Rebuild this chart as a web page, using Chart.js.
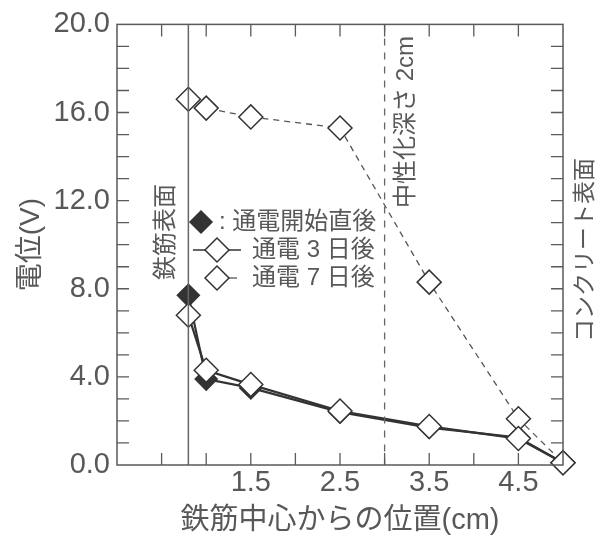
<!DOCTYPE html>
<html><head><meta charset="utf-8">
<script src="https://cdn.jsdelivr.net/npm/chart.js@4.4.1/dist/chart.umd.min.js"></script>
<style>html,body{margin:0;padding:0;background:#fff;}#wrap{width:596px;height:538px;}</style>
</head><body><div id="wrap"><canvas id="c" width="596" height="538"></canvas></div>
<script>
const positions = [0.8, 1.0, 1.5, 2.5, 3.5, 4.5, 5.0];
const initialValues = [7.7, 3.9, 3.5, 2.4, 1.7, 1.25, 0.1];
const day3Values = [6.8, 4.3, 3.65, 2.45, 1.75, 1.2, 0.1];
const day7Values = [16.6, 16.2, 15.8, 15.3, 8.3, 2.1, 0.1];
const seriesLabels = [': 通電開始直後', '通電 3 日後', '通電 7 日後'];
const xTickLabels = ['1.5', '2.5', '3.5', '4.5'];
const yTickLabels = ['0.0', '4.0', '8.0', '12.0', '16.0', '20.0'];
const rebarSurface = 0.8;
const carbonationFront = 3.0;
const xTitle = '鉄筋中心からの位置(cm)';
const yTitle = '電位(V)';
const rebarText = '鉄筋表面';
const carbText = '中性化深さ 2cm';
const concreteText = 'コンクリート表面';

const FONT = "'Liberation Sans', 'Noto Sans CJK JP', sans-serif";
const TXT = '#585858';
const AX = '#5a5a5a';
const DARK = '#333';

function pts(vals) { return positions.map((x, i) => ({x: x, y: vals[i]})); }

const decor = {
  id: 'decor',
  afterDatasetsDraw(chart) {
    const ctx = chart.ctx, a = chart.chartArea;
    const xs = chart.scales.x, ys = chart.scales.y;
    ctx.save();
    ctx.strokeStyle = '#666';
    ctx.lineWidth = 1.5;
    let px = xs.getPixelForValue(rebarSurface);
    ctx.beginPath(); ctx.moveTo(px, a.top); ctx.lineTo(px, a.bottom); ctx.stroke();
    px = xs.getPixelForValue(carbonationFront);
    ctx.setLineDash([7, 7]);
    ctx.lineWidth = 1.3;
    ctx.beginPath(); ctx.moveTo(px, a.top); ctx.lineTo(px, a.bottom); ctx.stroke();
    ctx.setLineDash([]);
    ctx.strokeStyle = AX;
    ctx.lineWidth = 1.5;
    ctx.strokeRect(a.left, a.top, a.right - a.left, a.bottom - a.top);
    const TL = 12;
    ctx.lineWidth = 1.3;
    ctx.beginPath();
    xs.ticks.forEach(t => {
      const p = xs.getPixelForValue(t.value);
      if (Math.abs(p - a.left) < 1 || Math.abs(p - a.right) < 1) return;
      ctx.moveTo(p, a.bottom); ctx.lineTo(p, a.bottom - TL);
      ctx.moveTo(p, a.top); ctx.lineTo(p, a.top + TL);
    });
    ys.ticks.forEach(t => {
      const p = ys.getPixelForValue(t.value);
      if (Math.abs(p - a.top) < 1 || Math.abs(p - a.bottom) < 1) return;
      ctx.moveTo(a.left, p); ctx.lineTo(a.left + TL, p);
      ctx.moveTo(a.right, p); ctx.lineTo(a.right - TL, p);
    });
    ctx.stroke();
    ctx.fillStyle = TXT;
    ctx.textAlign = 'center';
    ctx.textBaseline = 'middle';
    function vtext(t, x, y, size) {
      ctx.save();
      ctx.translate(x, y);
      ctx.rotate(-Math.PI / 2);
      ctx.font = size + 'px ' + FONT;
      ctx.fillText(t, 0, 0);
      ctx.restore();
    }
    vtext(rebarText, xs.getPixelForValue(rebarSurface) - 22, 232, 24);
    vtext(carbText, xs.getPixelForValue(carbonationFront) + 22, 122, 24);
    vtext(concreteText, a.right + 23, 250, 23);
    ctx.font = '24px ' + FONT;
    ctx.textAlign = 'left';
    function diamond(cx, cy, r, fill) {
      ctx.beginPath();
      ctx.moveTo(cx - r, cy); ctx.lineTo(cx, cy - r); ctx.lineTo(cx + r, cy); ctx.lineTo(cx, cy + r); ctx.closePath();
      ctx.fillStyle = fill; ctx.fill();
      ctx.strokeStyle = DARK; ctx.lineWidth = 1.5; ctx.stroke();
    }
    diamond(201, 222, 11, DARK);
    ctx.fillStyle = TXT;
    ctx.fillText(seriesLabels[0], 219, 222);
    ctx.strokeStyle = DARK; ctx.lineWidth = 1.5;
    ctx.beginPath(); ctx.moveTo(193, 250); ctx.lineTo(241, 250); ctx.stroke();
    diamond(217, 250, 12, '#fff');
    ctx.fillStyle = TXT;
    ctx.fillText(seriesLabels[1], 252, 250);
    ctx.strokeStyle = '#555'; ctx.lineWidth = 1.3;
    ctx.beginPath(); ctx.moveTo(229, 278); ctx.lineTo(237, 278); ctx.stroke();
    diamond(217, 278, 12, '#fff');
    ctx.fillStyle = TXT;
    ctx.fillText(seriesLabels[2], 252, 278);
    ctx.restore();
  }
};

new Chart(document.getElementById('c'), {
  type: 'scatter',
  data: {
    datasets: [
      {
        label: seriesLabels[1], data: pts(day3Values), showLine: true, clip: false,
        borderColor: DARK, borderWidth: 2.2,
        pointStyle: 'rectRot', pointRadius: 12, pointBorderWidth: 1.5,
        pointBackgroundColor: '#fff', pointBorderColor: DARK
      },
      {
        label: seriesLabels[2], data: pts(day7Values), showLine: true, clip: false,
        borderColor: '#555', borderWidth: 1.3, borderDash: [6, 5],
        pointStyle: 'rectRot', pointRadius: 12, pointBorderWidth: 1.5,
        pointBackgroundColor: '#fff', pointBorderColor: DARK
      },
      {
        label: seriesLabels[0], data: pts(initialValues), showLine: true, clip: false,
        borderColor: DARK, borderWidth: 2.2,
        pointStyle: 'rectRot', pointRadius: 11, pointBorderWidth: 1.5,
        pointBackgroundColor: DARK, pointBorderColor: DARK
      }
    ]
  },
  options: {
    responsive: false,
    animation: false,
    devicePixelRatio: 1,
    layout: { padding: { top: 23, right: 33, left: 0, bottom: 0 } },
    plugins: { legend: { display: false }, tooltip: { enabled: false } },
    scales: {
      x: {
        type: 'linear', min: 0, max: 5,
        afterFit(s) { s.height = 73; },
        grid: { display: false, drawTicks: false },
        border: { display: false },
        ticks: {
          stepSize: 0.5, autoSkip: false, maxRotation: 0, padding: 1,
          color: TXT, font: { family: FONT, size: 29 },
          callback(v) { const s = Number(v).toFixed(1); return xTickLabels.includes(s) ? s : ''; }
        },
        title: { display: true, text: xTitle, color: TXT, font: { family: FONT, size: 29 }, padding: { top: 0, bottom: 0 } }
      },
      y: {
        type: 'linear', min: 0, max: 20,
        afterFit(s) { s.width = 117; },
        grid: { display: false, drawTicks: false },
        border: { display: false },
        ticks: {
          stepSize: 1, autoSkip: false, padding: 7,
          color: TXT, font: { family: FONT, size: 29 },
          callback(v) { const s = Number(v).toFixed(1); return yTickLabels.includes(s) ? s : ''; }
        },
        title: { display: true, text: yTitle, color: TXT, font: { family: FONT, size: 28 }, padding: { top: 14, bottom: 0 } }
      }
    }
  },
  plugins: [decor]
});
</script></body></html>
